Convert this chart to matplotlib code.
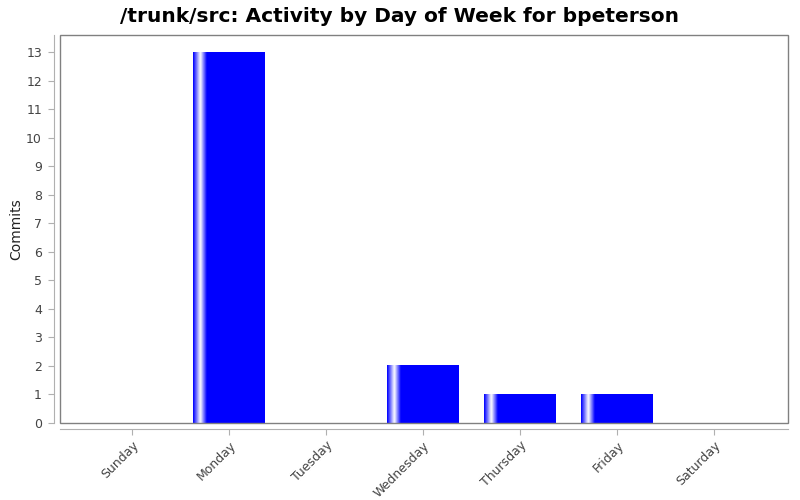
import numpy as np
import matplotlib
matplotlib.use('Agg')
import matplotlib.pyplot as plt
from matplotlib.colors import LinearSegmentedColormap
from matplotlib.patches import Rectangle

days = ['Sunday', 'Monday', 'Tuesday', 'Wednesday', 'Thursday', 'Friday', 'Saturday']
commits = [0, 13, 0, 2, 1, 1, 0]

fig = plt.figure(figsize=(8, 5), dpi=100)
ax = fig.add_axes([0.075, 0.154, 0.91, 0.776])

# gradient like the JFreeChart bars: blue -> white -> blue near left edge
grad = LinearSegmentedColormap.from_list('g', [(0, '#0000ff'), (0.05, '#8080ff'), (0.1, '#ffffff'),
                                             (0.19, '#0000ff'), (1, '#0000ff')])
row = np.linspace(0, 1, 200).reshape(1, -1)
w = 0.742
for i, v in enumerate(commits):
    if v > 0:
        ax.imshow(row, cmap=grad, aspect='auto', extent=[i - w / 2, i + w / 2, 0, v],
                  interpolation='bilinear', zorder=2)

ax.set_xlim(-0.742, 6.763)
ax.set_ylim(0, 13.6)
ax.set_yticks(range(0, 14))
ax.set_xticks(range(len(days)))
ax.set_xticklabels(days)

for s in ['top', 'right']:
    ax.spines[s].set_visible(False)
for s in ['left', 'bottom']:
    ax.spines[s].set_position(('outward', 4))
    ax.spines[s].set_color('#b0b0b0')
ax.add_patch(Rectangle((0, 0), 1, 1, transform=ax.transAxes, fill=False,
                       edgecolor='#808080', lw=1, zorder=5, clip_on=False))
ax.tick_params(colors='#b0b0b0', labelcolor='#444444', labelsize=9, length=4)
ax.tick_params(axis='y', pad=5)
plt.setp(ax.get_xticklabels(), rotation=45, ha='right', rotation_mode='anchor')
ax.set_ylabel('Commits', fontsize=10, color='#222222', labelpad=2)
fig.suptitle('/trunk/src: Activity by Day of Week for bpeterson', fontsize=14.5,
             fontweight='bold', y=0.985)

fig.savefig('out.png', dpi=100)
